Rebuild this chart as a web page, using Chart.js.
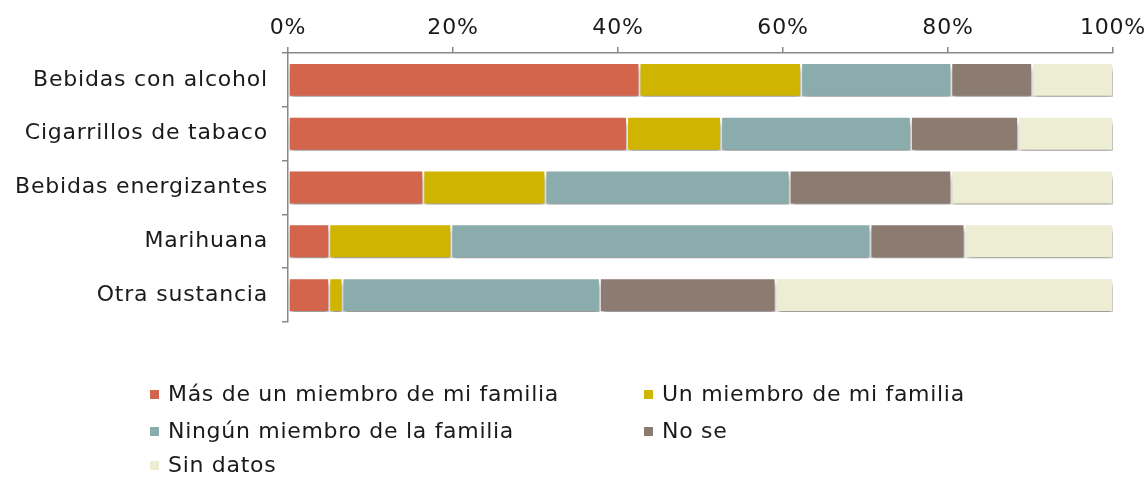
<!DOCTYPE html>
<html>
<head>
<meta charset="utf-8">
<script src="https://cdn.jsdelivr.net/npm/chart.js@4.4.1/dist/chart.umd.min.js"></script>
<style>
  html, body { margin: 0; padding: 0; background: #fff; }
  #wrap { position: relative; width: 1147px; height: 477px; }
  #c { position: absolute; left: 0; top: 0; }
  #legend { position: absolute; left: 0; top: 0; width: 1147px; height: 477px; pointer-events: none;
            font-family: "DejaVu Sans", sans-serif; font-size: 22px; letter-spacing: 0.7px; color: #1a1a1a; }
  .li { position: absolute; white-space: nowrap; line-height: 24px; }
  .li .box { position: absolute; left: 0; top: 8px; width: 9px; height: 9px; }
  .li .tx { position: absolute; left: 18px; top: 0; }
</style>
</head>
<body>
<div id="wrap">
  <canvas id="c" width="1147" height="477"></canvas>
  <div id="legend"></div>
</div>
<script>
const categories = ["Bebidas con alcohol", "Cigarrillos de tabaco", "Bebidas energizantes", "Marihuana", "Otra sustancia"];
const seriesNames = ["Más de un miembro de mi familia", "Un miembro de mi familia", "Ningún miembro de la familia", "No se", "Sin datos"];
const masDeUno   = [42.6, 41.1, 16.4,  5.0,  5.0];
const unMiembro  = [19.6, 11.4, 14.8, 14.8,  1.6];
const ninguno    = [18.2, 23.0, 29.6, 50.8, 31.2];
const noSe       = [ 9.8, 13.0, 19.6, 11.4, 21.3];
const sinDatos   = [ 9.8, 11.5, 19.6, 18.0, 40.9];
const tickValues = [0, 20, 40, 60, 80, 100];
const colors = ["#D3654C", "#CFB500", "#8BACAC", "#8C7B70", "#EDEDD4"];

const seriesValues = [masDeUno, unMiembro, ninguno, noSe, sinDatos];
const FONT = "DejaVu Sans";

const spacingPlugin = {
  id: 'letterSpacing',
  beforeDraw(chart) { chart.ctx.letterSpacing = '0.8px'; }
};

const shadowPlugin = {
  id: 'barShadow',
  beforeDatasetDraw(chart) {
    const ctx = chart.ctx;
    ctx.save();
    ctx.shadowColor = 'rgba(0,0,0,0.42)';
    ctx.shadowBlur = 5;
    ctx.shadowOffsetX = 1;
    ctx.shadowOffsetY = 5;
  },
  afterDatasetDraw(chart) {
    chart.ctx.restore();
  }
};

new Chart(document.getElementById('c'), {
  type: 'bar',
  data: {
    labels: categories,
    datasets: seriesValues.map((vals, i) => ({
      label: seriesNames[i],
      data: vals,
      backgroundColor: colors[i],
      borderColor: '#ffffff',
      borderWidth: 1,
      borderSkipped: false,
      barPercentage: 0.63,
      categoryPercentage: 1.0
    }))
  },
  options: {
    indexAxis: 'y',
    responsive: false,
    animation: false,
    events: [],
    layout: { padding: { left: 0, right: 34, top: 0, bottom: 155 } },
    plugins: { legend: { display: false }, tooltip: { enabled: false } },
    scales: {
      x: {
        position: 'top',
        stacked: true,
        min: 0, max: 100,
        afterBuildTicks(scale) { scale.ticks = tickValues.map(v => ({ value: v })); },
        afterFit(scale) { scale.height = 53; scale.paddingLeft = 0; scale.paddingRight = 0; },
        ticks: {
          callback: v => v + '%',
          font: { family: FONT, size: 22 },
          color: '#1a1a1a',
          padding: 6,
          maxRotation: 0
        },
        grid: { drawOnChartArea: false, drawTicks: true, tickLength: 6, color: '#888888', lineWidth: 1.5 },
        border: { display: true, color: '#888888', width: 1.5 }
      },
      y: {
        stacked: true,
        afterFit(scale) { scale.width = 288; },
        ticks: {
          font: { family: FONT, size: 22 },
          color: '#1a1a1a',
          padding: 14
        },
        grid: { drawOnChartArea: false, drawTicks: true, tickLength: 6, color: '#888888', lineWidth: 1.5, offset: true },
        border: { display: true, color: '#888888', width: 1.5 }
      }
    }
  },
  plugins: [spacingPlugin, shadowPlugin]
});

// Legend (two columns)
const legend = document.getElementById('legend');
const legendCols = [150, 644];
const legendRows = [382, 419, 453];
seriesNames.forEach((name, i) => {
  const d = document.createElement('div');
  d.className = 'li';
  d.style.left = legendCols[i % 2] + 'px';
  d.style.top = legendRows[Math.floor(i / 2)] + 'px';
  d.innerHTML = '<span class="box" style="background:' + colors[i] + '"></span><span class="tx"></span>';
  d.querySelector('.tx').textContent = name;
  legend.appendChild(d);
});
</script>
</body>
</html>
